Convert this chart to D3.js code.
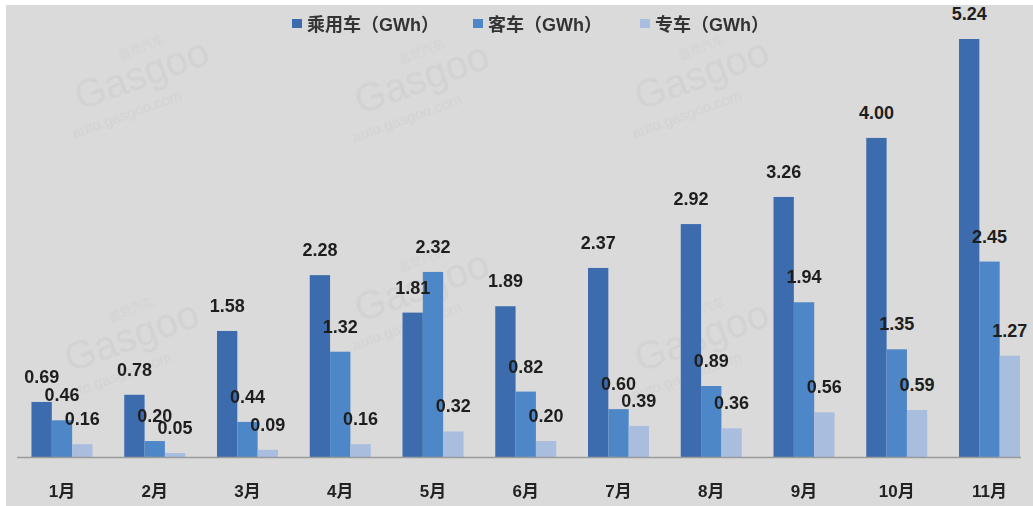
<!DOCTYPE html>
<html>
<head>
<meta charset="utf-8">
<script src="https://cdn.jsdelivr.net/npm/d3@7"></script>
<style>
  html, body { margin: 0; padding: 0; background: #ffffff; }
  svg { display: block; }
  text { font-family: "Liberation Sans", "Noto Sans CJK SC", sans-serif; font-weight: bold; }
</style>
</head>
<body>
<svg id="chart" width="1033" height="506"></svg>
<script>
// Monthly battery installations by vehicle type (GWh)
const months = ["1月", "2月", "3月", "4月", "5月", "6月", "7月", "8月", "9月", "10月", "11月"];
const seriesNames = ["乘用车（GWh）", "客车（GWh）", "专车（GWh）"];
const passengerCar = [0.69, 0.78, 1.58, 2.28, 1.81, 1.89, 2.37, 2.92, 3.26, 4.00, 5.24];
const bus = [0.46, 0.20, 0.44, 1.32, 2.32, 0.82, 0.60, 0.89, 1.94, 1.35, 2.45];
const specialVehicle = [0.16, 0.05, 0.09, 0.16, 0.32, 0.20, 0.39, 0.36, 0.56, 0.59, 1.27];
const seriesColors = ["#3c6cae", "#4e87c7", "#a9bddf"];

const seriesValues = [passengerCar, bus, specialVehicle];
const rows = months.map((m, i) => ({
  month: m,
  values: seriesValues.map((s, k) => ({ key: seriesNames[k], k, v: s[i] }))
}));

const W = 1033, H = 506;
const svg = d3.select("#chart");

// background panel
svg.append("rect").attr("x", 6).attr("y", 5).attr("width", W - 6).attr("height", H - 5)
  .attr("fill", "#dadada");

// faint watermark stamps
const marks = [[120, 88], [400, 92], [680, 88], [110, 350], [400, 300], [680, 350]];
const wm = svg.append("g").attr("fill", "#cdcdcd").attr("opacity", 0.55);
marks.forEach(([x, y]) => {
  const g = wm.append("g").attr("transform", `translate(${x},${y}) rotate(-20)`);
  g.append("text").attr("x", 10).attr("y", -26).attr("font-size", 12)
    .style("font-weight", "normal").text("盖世汽车");
  g.append("text").attr("x", -45).attr("y", 8).attr("font-size", 40)
    .style("font-weight", "normal").text("Gasgoo");
  g.append("text").attr("x", -60).attr("y", 32).attr("font-size", 15)
    .style("font-weight", "normal").text("auto.gasgoo.com");
});

const baseline = 457;
const x0 = d3.scaleBand().domain(months).range([15.6, 1035.9]).padding(0);
const groupW = 61;
const x1 = d3.scaleBand().domain(seriesNames).range([0, groupW]).padding(0);
const y = d3.scaleLinear().domain([0, 5.24]).range([baseline, 39]);

const plot = svg.append("g");

const groups = plot.selectAll("g.month").data(rows).join("g")
  .attr("class", "month")
  .attr("transform", d => `translate(${x0(d.month) + x0.bandwidth() / 2 - groupW / 2},0)`);

groups.selectAll("rect").data(d => d.values).join("rect")
  .attr("x", d => x1(d.key))
  .attr("width", x1.bandwidth())
  .attr("y", d => y(d.v))
  .attr("height", d => baseline - y(d.v))
  .attr("fill", d => seriesColors[d.k]);

// axis line
svg.append("line").attr("x1", 17).attr("x2", 1021)
  .attr("y1", baseline + 0.5).attr("y2", baseline + 0.5)
  .attr("stroke", "#9a9a9a").attr("stroke-width", 1.5);

// value labels
groups.selectAll("text.val").data(d => d.values).join("text")
  .attr("class", "val")
  .attr("x", d => x1(d.key) + x1.bandwidth() / 2)
  .attr("y", d => y(d.v) - 19)
  .attr("text-anchor", "middle")
  .attr("font-size", 18)
  .attr("fill", "#1e1e1e")
  .text(d => d.v.toFixed(2));

// category axis
const xAxis = d3.axisBottom(x0).tickSize(0).tickPadding(0);
const ax = svg.append("g").attr("transform", `translate(0,${baseline})`).call(xAxis);
ax.select(".domain").remove();
ax.selectAll("text")
  .attr("y", 40)
  .attr("dy", 0)
  .attr("font-size", 17)
  .attr("fill", "#222")
  .style("font-family", "\"Liberation Sans\", \"Noto Sans CJK SC\", sans-serif")
  .style("font-weight", "bold");

// legend
const legendX = [292, 473, 640];
const legend = svg.append("g");
seriesNames.forEach((name, k) => {
  legend.append("rect").attr("x", legendX[k]).attr("y", 19).attr("width", 10).attr("height", 9)
    .attr("fill", seriesColors[k]);
  legend.append("text").attr("x", legendX[k] + 15).attr("y", 31)
    .attr("font-size", 18).attr("fill", "#333").text(name);
});
</script>
</body>
</html>
